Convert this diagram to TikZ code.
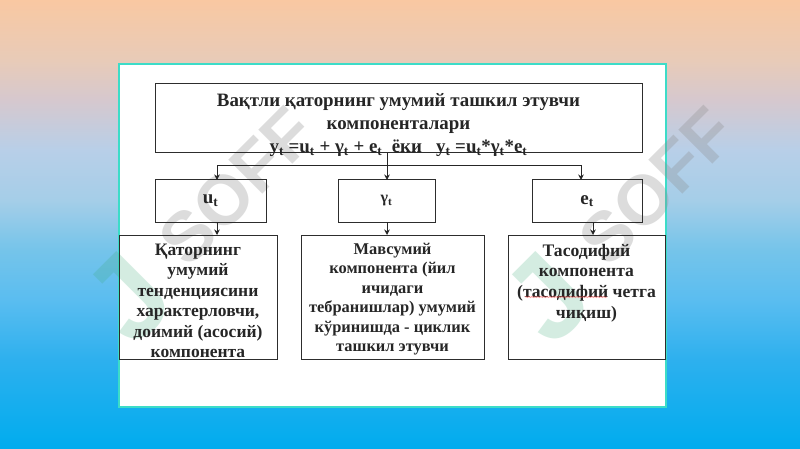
\documentclass[tikz,border=0pt]{standalone}
\usepackage{fontspec}
\setmainfont{Liberation Serif}
\newfontfamily\wmfont{Liberation Sans}
\usetikzlibrary{arrows.meta,decorations.pathmorphing}
\definecolor{bgA}{RGB}{249,200,162}
\definecolor{bgB}{RGB}{232,203,184}
\definecolor{bgC}{RGB}{214,200,206}
\definecolor{bgD}{RGB}{184,207,232}
\definecolor{bgE}{RGB}{165,206,232}
\definecolor{bgF}{RGB}{117,196,234}
\definecolor{bgG}{RGB}{90,189,240}
\definecolor{bgH}{RGB}{45,176,238}
\definecolor{bgI}{RGB}{0,172,238}
\definecolor{panelline}{RGB}{60,220,200}
\definecolor{boxline}{RGB}{45,45,45}
\definecolor{wmgreen}{RGB}{60,170,120}
\pgfdeclareverticalshading{bgshade}{100bp}{
  color(0bp)=(bgI); color(25bp)=(bgI); color(34.9bp)=(bgH); color(41.6bp)=(bgG);
  color(47.2bp)=(bgF); color(52.7bp)=(bgE); color(58.3bp)=(bgD); color(63.9bp)=(bgC);
  color(68.3bp)=(bgB); color(75bp)=(bgA); color(100bp)=(bgA)}
\newcommand{\tsb}{\textsubscript{t}}
\newcommand{\boxtext}[6]{\parbox[c][#2pt][t]{#1pt}{\centering\vspace*{#3pt}\fontsize{#4}{#5}\selectfont\bfseries #6\par}}
\tikzset{
  diagbox/.style={draw=boxline,line width=1pt,inner sep=0pt,outer sep=0pt,anchor=north west,text=black!85},
  conn/.style={draw=black!85,line width=1pt},
  arr/.style={conn,-{Stealth[length=5.5pt,width=5.5pt]}},
  wm/.style={font=\wmfont\bfseries\fontsize{70}{70}\selectfont,rotate=45,opacity=.3,text=black!45},
  wmj/.style={font=\wmfont\bfseries\fontsize{118}{118}\selectfont,rotate=45,opacity=.22,text=wmgreen}
}
\begin{document}
\begin{tikzpicture}[x=1pt,y=-1pt]
\useasboundingbox (0,0) rectangle (800,449);
\shade[shading=bgshade] (0,0) rectangle (800,449);
\path[fill=white,draw=panelline,line width=1.2pt] (119,64) rectangle (666,407);
% watermark
\node[wm] (wmleft) at (237,186) {SOFF};
\node[wm] (wmright) at (657,186) {SOFF};
\node[wmj] (wmjleft) at (128,298) {J};
\node[wmj] (wmjright) at (547,298) {J};
% top box
\node[diagbox] (top) at (155,84) {\boxtext{487}{69}{9}{18.9}{23.3}{%
  Вақтли қаторнинг умумий ташкил этувчи\\ компоненталари\\
  y\tsb\ =u\tsb\ + γ\tsb\ + e\tsb\ \ ёки\ \ \ y\tsb\ =u\tsb*γ\tsb*e\tsb}};
% middle boxes
\node[diagbox,minimum width=111pt,minimum height=42pt,font=\fontsize{19}{19}\selectfont\bfseries] (u) at (155,180) {u\tsb};
\node[diagbox,minimum width=97pt,minimum height=42pt,font=\fontsize{16}{16}\selectfont\bfseries] (g) at (338,180) {γ\tsb};
\node[diagbox,minimum width=110pt,minimum height=42pt,font=\fontsize{19}{19}\selectfont\bfseries] (e) at (532,180) {e\tsb};
% lower boxes
\node[diagbox] (lu) at (119,235) {\boxtext{158}{124}{9}{17.5}{20.4}{Қаторнинг\\ умумий\\ тенденциясини\\ характерловчи,\\ доимий (асосий)\\ компонента}};
\node[diagbox] (lg) at (301,235) {\boxtext{183}{124}{8}{16.4}{19.5}{Мавсумий\\ компонента (йил\\ ичидаги\\ тебранишлар) умумий\\ кўринишда - циклик\\ ташкил этувчи}};
\node[diagbox] (le) at (508,235) {\boxtext{157}{124}{9}{17.6}{20.6}{Тасодифий\\ компонента\\ (тасодифий четга\\ чиқиш)}};
% connectors
\coordinate (bus) at (387,166);
\coordinate (topout) at (387,153);
\coordinate (uin) at (217,180);
\coordinate (gin) at (387,180);
\coordinate (ein) at (581,180);
\coordinate (uout) at (217,222);
\coordinate (gout) at (387,222);
\coordinate (eout) at (593,222);
\coordinate (luin) at (217,235);
\coordinate (lgin) at (387,235);
\coordinate (lein) at (593,235);
\draw[conn] (topout) -- (bus);
\draw[arr] (bus) -| (uin);
\draw[arr] (bus) -- (gin);
\draw[arr] (bus) -| (ein);
\draw[arr] (uout) -- (luin);
\draw[arr] (gout) -- (lgin);
\draw[arr] (eout) -- (lein);
% spell-check squiggle
\draw[red!70,opacity=.55,line width=.8pt,decorate,decoration={snake,amplitude=.6pt,segment length=3pt}] (525,297) -- (607,297);
\end{tikzpicture}
\end{document}
